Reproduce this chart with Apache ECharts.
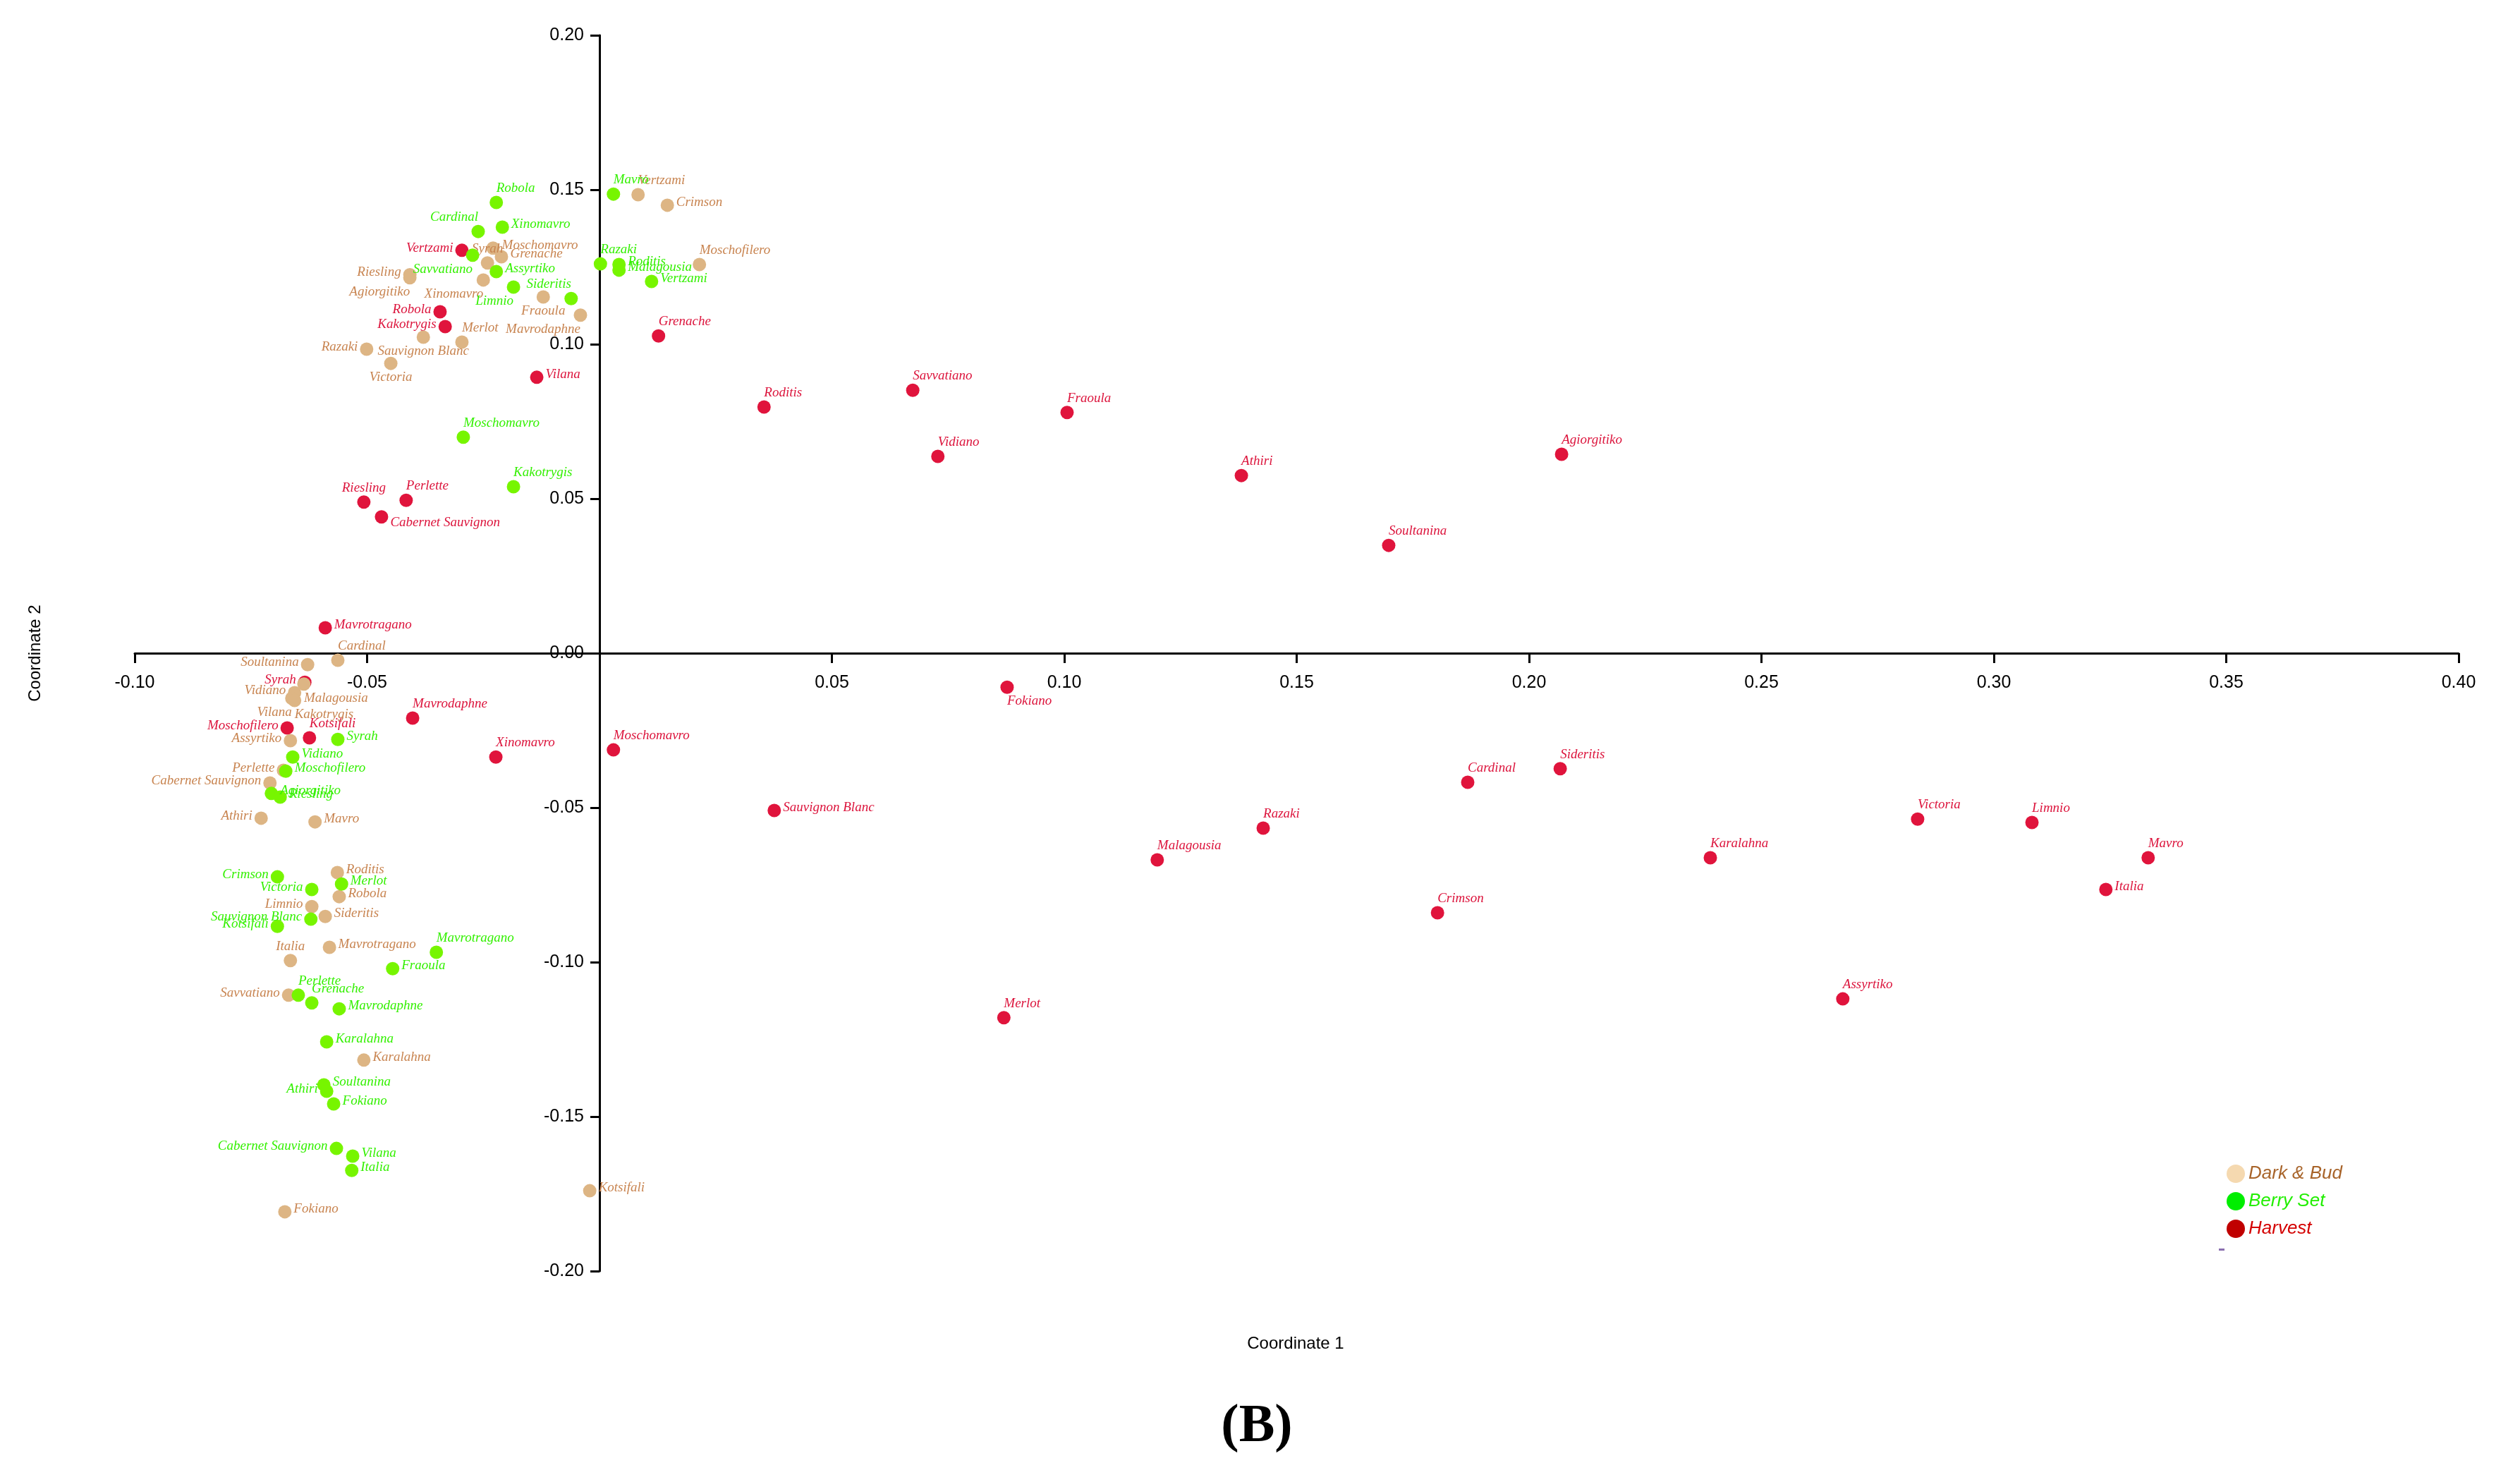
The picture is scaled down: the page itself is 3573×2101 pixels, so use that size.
<!DOCTYPE html>
<html>
<head>
<meta charset="utf-8">
<script src="https://cdn.jsdelivr.net/npm/echarts@6/dist/echarts.min.js"></script>
<style>
  html, body { margin: 0; padding: 0; background: #fff; }
  #chart { width: 3573px; height: 2101px; }
</style>
</head>
<body>
<div id="chart"></div>
<script>
// Dark & Bud
const budNames = ['Vertzami', 'Crimson', 'Moschofilero', 'Moschomavro', 'Grenache', 'Syrah', 'Xinomavro', 'Riesling', 'Agiorgitiko', 'Fraoula', 'Mavrodaphne', 'Sauvignon Blanc', 'Merlot', 'Razaki', 'Victoria', 'Cardinal', 'Soultanina', 'Malagousia', 'Vidiano', 'Vilana', 'Kakotrygis', 'Assyrtiko', 'Perlette', 'Cabernet Sauvignon', 'Athiri', 'Mavro', 'Roditis', 'Robola', 'Limnio', 'Sideritis', 'Mavrotragano', 'Italia', 'Savvatiano', 'Karalahna', 'Fokiano', 'Kotsifali'];
const budX = [0.0083, 0.0146, 0.0215, -0.0229, -0.0211, -0.0241, -0.0250, -0.0408, -0.0408, -0.0121, -0.0041, -0.0379, -0.0296, -0.0501, -0.0449, -0.0563, -0.0628, -0.0636, -0.0656, -0.0662, -0.0656, -0.0665, -0.0680, -0.0709, -0.0728, -0.0612, -0.0564, -0.0560, -0.0619, -0.0590, -0.0581, -0.0665, -0.0669, -0.0507, -0.0677, -0.0021];
const budY = [0.1484, 0.1450, 0.1258, 0.1311, 0.1283, 0.1263, 0.1208, 0.1225, 0.1215, 0.1153, 0.1094, 0.1023, 0.1007, 0.0984, 0.0938, -0.0023, -0.0037, -0.0100, -0.0128, -0.0146, -0.0153, -0.0283, -0.0379, -0.0420, -0.0534, -0.0546, -0.0710, -0.0788, -0.0820, -0.0852, -0.0952, -0.0995, -0.1107, -0.1317, -0.1808, -0.1740];

// Berry Set
const berryNames = ['Robola', 'Mavro', 'Cardinal', 'Xinomavro', 'Savvatiano', 'Assyrtiko', 'Limnio', 'Sideritis', 'Razaki', 'Roditis', 'Malagousia', 'Vertzami', 'Moschomavro', 'Kakotrygis', 'Syrah', 'Vidiano', 'Moschofilero', 'Agiorgitiko', 'Riesling', 'Crimson', 'Merlot', 'Victoria', 'Sauvignon Blanc', 'Kotsifali', 'Mavrotragano', 'Fraoula', 'Perlette', 'Grenache', 'Mavrodaphne', 'Karalahna', 'Soultanina', 'Athiri', 'Fokiano', 'Cabernet Sauvignon', 'Vilana', 'Italia'];
const berryX = [-0.0222, 0.0030, -0.0261, -0.0209, -0.0273, -0.0222, -0.0185, -0.0061, 0.0002, 0.0042, 0.0042, 0.0112, -0.0293, -0.0185, -0.0563, -0.0660, -0.0675, -0.0706, -0.0687, -0.0693, -0.0555, -0.0619, -0.0621, -0.0693, -0.0351, -0.0445, -0.0648, -0.0619, -0.0560, -0.0587, -0.0593, -0.0587, -0.0572, -0.0566, -0.0531, -0.0533];
const berryY = [0.1459, 0.1486, 0.1365, 0.1379, 0.1288, 0.1235, 0.1185, 0.1148, 0.1260, 0.1258, 0.1240, 0.1203, 0.0699, 0.0539, -0.0279, -0.0336, -0.0382, -0.0454, -0.0466, -0.0724, -0.0747, -0.0765, -0.0861, -0.0884, -0.0968, -0.1021, -0.1107, -0.1132, -0.1151, -0.1258, -0.1397, -0.1418, -0.1459, -0.1603, -0.1628, -0.1674];

// Harvest
const harvestNames = ['Vertzami', 'Robola', 'Kakotrygis', 'Grenache', 'Vilana', 'Riesling', 'Perlette', 'Cabernet Sauvignon', 'Mavrotragano', 'Syrah', 'Moschofilero', 'Kotsifali', 'Mavrodaphne', 'Xinomavro', 'Moschomavro', 'Roditis', 'Savvatiano', 'Fraoula', 'Vidiano', 'Athiri', 'Agiorgitiko', 'Soultanina', 'Fokiano', 'Sauvignon Blanc', 'Malagousia', 'Razaki', 'Cardinal', 'Sideritis', 'Crimson', 'Merlot', 'Karalahna', 'Victoria', 'Limnio', 'Mavro', 'Italia', 'Assyrtiko'];
const harvestX = [-0.0296, -0.0343, -0.0332, 0.0127, -0.0135, -0.0507, -0.0416, -0.0469, -0.0590, -0.0634, -0.0672, -0.0624, -0.0402, -0.0223, 0.0030, 0.0354, 0.0674, 0.1006, 0.0728, 0.1381, 0.2070, 0.1698, 0.0877, 0.0376, 0.1200, 0.1428, 0.1868, 0.2067, 0.1803, 0.0870, 0.2390, 0.2836, 0.3082, 0.3332, 0.3241, 0.2675];
const harvestY = [0.1304, 0.1105, 0.1057, 0.1027, 0.0893, 0.0489, 0.0495, 0.0441, 0.0082, -0.0094, -0.0242, -0.0274, -0.0210, -0.0336, -0.0313, 0.0797, 0.0851, 0.0779, 0.0637, 0.0575, 0.0644, 0.0349, -0.0110, -0.0509, -0.0669, -0.0566, -0.0418, -0.0374, -0.0840, -0.1180, -0.0662, -0.0537, -0.0548, -0.0662, -0.0765, -0.1119];

// where each name label sits around its dot
const budSide = ['tr', 'r', 'tr', 'r', 'r', 't', 'lb', 'l', 'lb', 'b', 'lb', 'b', 'tr', 'l', 'b', 'tr', 'l', 'rb', 'l', 'lb', 'rb', 'l', 'l', 'l', 'l', 'r', 'r', 'r', 'l', 'r', 'r', 't', 'l', 'r', 'r', 'r'];
const berrySide = ['tr', 'tr', 'tl', 'r', 'lb', 'r', 'lb', 'tl', 'tr', 'r', 'r', 'r', 'tr', 'tr', 'r', 'r', 'r', 'r', 'r', 'l', 'r', 'l', 'l', 'l', 'tr', 'r', 'tr', 'tr', 'r', 'r', 'r', 'l', 'r', 'l', 'r', 'r'];
const harvestSide = ['l', 'l', 'l', 'tr', 'r', 't', 'tr', 'rd', 'r', 'l', 'l', 'tr', 'tr', 'tr', 'tr', 'tr', 'tr', 'tr', 'tr', 'tr', 'tr', 'tr', 'rb', 'r', 'tr', 'tr', 'tr', 'tr', 'tr', 'tr', 'tr', 'tr', 'tr', 'tr', 'r', 'tr'];

const sides = {
  r: { position: 'right', distance: 3, offset: [0, -4] },
  rd: { position: 'right', distance: 3, offset: [0, 8] },
  l: { position: 'left', distance: 3, offset: [0, -3] },
  t: { position: 'top', distance: 1 },
  tr: { position: 'top', align: 'left', distance: 1 },
  tl: { position: 'top', align: 'right', distance: 1 },
  b: { position: 'bottom', distance: 1 },
  rb: { position: 'bottom', align: 'left', distance: 1 },
  lb: { position: 'bottom', align: 'right', distance: 1 },
};

function points(names, xs, ys, side) {
  return names.map((n, i) => ({ name: n, value: [xs[i], ys[i]], label: sides[side[i]] }));
}

function series(name, data, dot, text, z) {
  return {
    name,
    type: 'scatter',
    z,
    symbolSize: 19,
    data,
    itemStyle: { color: dot, opacity: 1 },
    label: {
      show: true,
      formatter: '{b}',
      color: text,
      fontStyle: 'italic',
      fontFamily: 'Liberation Serif',
      fontSize: 19,
    },
    emphasis: { disabled: true },
  };
}

const chart = echarts.init(document.getElementById('chart'));

// plot box; the two axes cross at (0, 0) inside it
const grid = { left: 191, right: 87, top: 50, bottom: 299 };
const plotW = 3573 - grid.left - grid.right;
const plotH = 2101 - grid.top - grid.bottom;
const xMin = -0.1, xMax = 0.4, yMin = -0.2, yMax = 0.2;

const axisStyle = { lineStyle: { color: '#000', width: 3 } };
const tickFont = { color: '#000', fontFamily: 'Liberation Sans', fontSize: 25 };

chart.setOption({
  animation: false,
  backgroundColor: '#fff',
  grid,
  xAxis: {
    type: 'value',
    min: xMin,
    max: xMax,
    interval: 0.05,
    position: 'bottom',
    offset: -plotH * (0 - yMin) / (yMax - yMin),
    axisLine: { onZero: false, ...axisStyle },
    axisTick: { length: 14, ...axisStyle },
    axisLabel: { ...tickFont, margin: 30, formatter: (v) => (Math.abs(v) < 1e-9 ? '' : v.toFixed(2)) },
    splitLine: { show: false },
  },
  yAxis: {
    type: 'value',
    min: yMin,
    max: yMax,
    interval: 0.05,
    position: 'left',
    offset: -plotW * (0 - xMin) / (xMax - xMin),
    axisLine: { onZero: false, ...axisStyle },
    axisTick: { length: 13, ...axisStyle },
    axisLabel: { ...tickFont, margin: 22, formatter: (v) => v.toFixed(2) },
    splitLine: { show: false },
  },
  legend: {
    orient: 'vertical',
    left: 3152,
    top: 1646,
    icon: 'circle',
    itemWidth: 26,
    itemHeight: 26,
    itemGap: 13,
    textStyle: { fontFamily: 'Liberation Sans', fontStyle: 'italic', fontSize: 26 },
    data: [
      { name: 'Dark & Bud', itemStyle: { color: '#f5d9b0' }, textStyle: { color: '#a8642a' } },
      { name: 'Berry Set', itemStyle: { color: '#00ee00' }, textStyle: { color: '#22ee00' } },
      { name: 'Harvest', itemStyle: { color: '#c00000' }, textStyle: { color: '#d40000' } },
    ],
  },
  graphic: [
    { type: 'text', x: 1837, y: 1905, style: { text: 'Coordinate 1', fontFamily: 'Liberation Sans', fontSize: 24, fill: '#000', align: 'center', verticalAlign: 'middle' } },
    { type: 'text', x: 50, y: 926, rotation: Math.PI / 2, style: { text: 'Coordinate 2', fontFamily: 'Liberation Sans', fontSize: 24, fill: '#000', align: 'center', verticalAlign: 'middle' } },
    { type: 'text', x: 1782, y: 2023, style: { text: '(B)', fontFamily: 'Liberation Serif', fontWeight: 'bold', fontSize: 76, fill: '#000', align: 'center', verticalAlign: 'middle' } },
    // tiny stray mark under the legend
    { type: 'rect', shape: { x: 3146, y: 1770, width: 8, height: 3 }, style: { fill: '#8a6fb0' } },
  ],
  series: [
    series('Dark & Bud', points(budNames, budX, budY, budSide), '#ddb584', '#c88450', 3),
    series('Berry Set', points(berryNames, berryX, berryY, berrySide), '#77f500', '#33f000', 4),
    series('Harvest', points(harvestNames, harvestX, harvestY, harvestSide), '#e0143c', '#dc143c', 2),
  ],
});
</script>
</body>
</html>
